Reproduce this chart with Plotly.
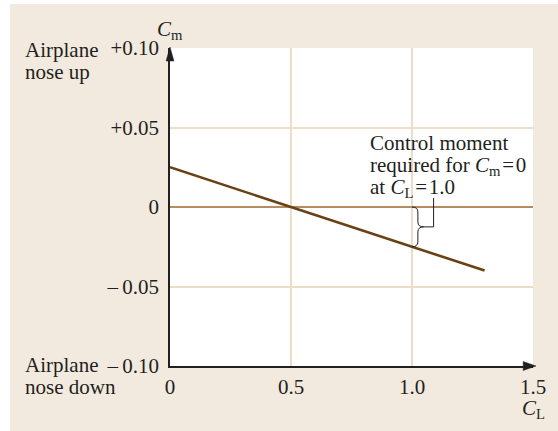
import plotly.graph_objects as go

# Pitching-moment curve: C_m versus C_L
cl = [0.0, 1.3]
cm = [0.025, -0.04]

x_ticks = [0.0, 0.5, 1.0, 1.5]
x_labels = ["0", "0.5", "1.0", "1.5"]
y_ticks = [-0.10, -0.05, 0.0, 0.05, 0.10]
y_labels = ["\u2013\u20090.10", "\u2013\u20090.05", "0", "+0.05", "+0.10"]

cl_ref = 1.0  # C_L at which the control moment is indicated

W_FIG, H_FIG = 558, 431
L, R, T, B = 170, 18, 48, 65
PW, PH = W_FIG - L - R, H_FIG - T - B
X_RANGE = [0.0, 1.5]
Y_RANGE = [-0.10, 0.10]

FONT = "Liberation Serif"
FS = 21
INK = "#231f20"
BEIGE = "#f2eadf"
GRID = "#eddcc6"
ZERO = "#b48c5f"
CURVE = "#6a4114"


def px_x(p):
    return (p - L) / PW


def px_y(p):
    return (T + PH - p) / PH


def dx(px):
    return px * (X_RANGE[1] - X_RANGE[0]) / PW


def dy(px):
    return px * (Y_RANGE[1] - Y_RANGE[0]) / PH


# value of the curve at the reference C_L
slope = (cm[1] - cm[0]) / (cl[1] - cl[0])
cm_ref = cm[0] + slope * (cl_ref - cl[0])

fig = go.Figure()
fig.add_trace(go.Scatter(x=cl, y=cm, mode="lines",
                         line=dict(color=CURVE, width=2.6),
                         hoverinfo="skip", showlegend=False))

shapes = []
# white margin strips around the beige panel
shapes.append(dict(type="rect", xref="paper", yref="paper",
                   x0=px_x(-5), x1=px_x(7), y0=px_y(440), y1=px_y(-5),
                   fillcolor="white", line_width=0, layer="below"))
shapes.append(dict(type="rect", xref="paper", yref="paper",
                   x0=px_x(-5), x1=px_x(565), y0=px_y(4), y1=px_y(-5),
                   fillcolor="white", line_width=0, layer="below"))

# arrowheads on the axes
y_tip = px_y(T - 1)
shapes.append(dict(type="path", xref="paper", yref="paper",
                   path=f"M {px_x(L)},{y_tip} L {px_x(L - 4)},{px_y(T + 13)} "
                        f"L {px_x(L + 4)},{px_y(T + 13)} Z",
                   fillcolor=INK, line=dict(color=INK, width=0.5)))
x_tip = px_x(L + PW + 3)
shapes.append(dict(type="path", xref="paper", yref="paper",
                   path=f"M {x_tip},{px_y(T + PH)} L {px_x(L + PW - 10)},{px_y(T + PH - 4.5)} "
                        f"L {px_x(L + PW - 10)},{px_y(T + PH + 4.5)} Z",
                   fillcolor=INK, line=dict(color=INK, width=0.5)))

# curly brace between C_m = 0 and the curve at C_L = 1.0, with leader line
y_top, y_bot = 0.0, cm_ref
y_mid = (y_top + y_bot) / 2
d1, tip, c = dx(6), dx(12), dy(5)
x0 = cl_ref
brace = (f"M {x0},{y_top} Q {x0 + d1},{y_top} {x0 + d1},{y_top - c} "
         f"L {x0 + d1},{y_mid + c} Q {x0 + d1},{y_mid} {x0 + tip},{y_mid} "
         f"Q {x0 + d1},{y_mid} {x0 + d1},{y_mid - c} "
         f"L {x0 + d1},{y_bot + c} Q {x0 + d1},{y_bot} {x0},{y_bot}")
shapes.append(dict(type="path", xref="x", yref="y", path=brace,
                   line=dict(color=INK, width=1)))
shapes.append(dict(type="path", xref="x", yref="y",
                   path=f"M {x0 + tip},{y_mid} L {x0 + dx(22)},{y_mid} "
                        f"L {x0 + dx(22)},{dy(9)}",
                   line=dict(color=INK, width=1)))

annotations = []


def text(s, x, y, xanchor="left"):
    annotations.append(dict(text=s, x=x, y=y, xref="paper", yref="paper",
                            xanchor=xanchor, yanchor="middle", showarrow=False,
                            font=dict(family=FONT, size=FS, color=INK)))


EQ = "\u200a=\u200a"
text("Airplane", px_x(20), px_y(50))
text("nose up", px_x(20), px_y(72))
text("Airplane", px_x(20), px_y(365))
text("nose down", px_x(20), px_y(387))
text("<i>C</i><sub>m</sub>", px_x(170), px_y(30), "center")
text("<i>C</i><sub>L</sub>", px_x(541), px_y(409), "center")
text("Control moment", px_x(372), px_y(143))
text(f"required for <i>C</i><sub>m</sub>{EQ}0", px_x(372), px_y(166))
text(f"at <i>C</i><sub>L</sub>{EQ}1.0", px_x(372), px_y(188))

axis_common = dict(showgrid=True, gridcolor=GRID, gridwidth=1.5,
                   showline=True, linecolor=INK, linewidth=1.6,
                   ticks="", tickfont=dict(family=FONT, size=FS, color=INK),
                   fixedrange=True)

fig.update_layout(
    width=W_FIG, height=H_FIG,
    margin=dict(l=L, r=R, t=T, b=B, pad=0),
    paper_bgcolor=BEIGE, plot_bgcolor="white",
    xaxis=dict(range=X_RANGE, tickvals=x_ticks, ticktext=x_labels,
               zeroline=False, ticklabelstandoff=1, **axis_common),
    yaxis=dict(range=Y_RANGE, tickvals=y_ticks, ticktext=y_labels,
               zeroline=True, zerolinecolor=ZERO, zerolinewidth=1.5,
               ticklabelstandoff=5, **axis_common),
    shapes=shapes,
    annotations=annotations,
    showlegend=False,
)

fig.write_html("out.html")
